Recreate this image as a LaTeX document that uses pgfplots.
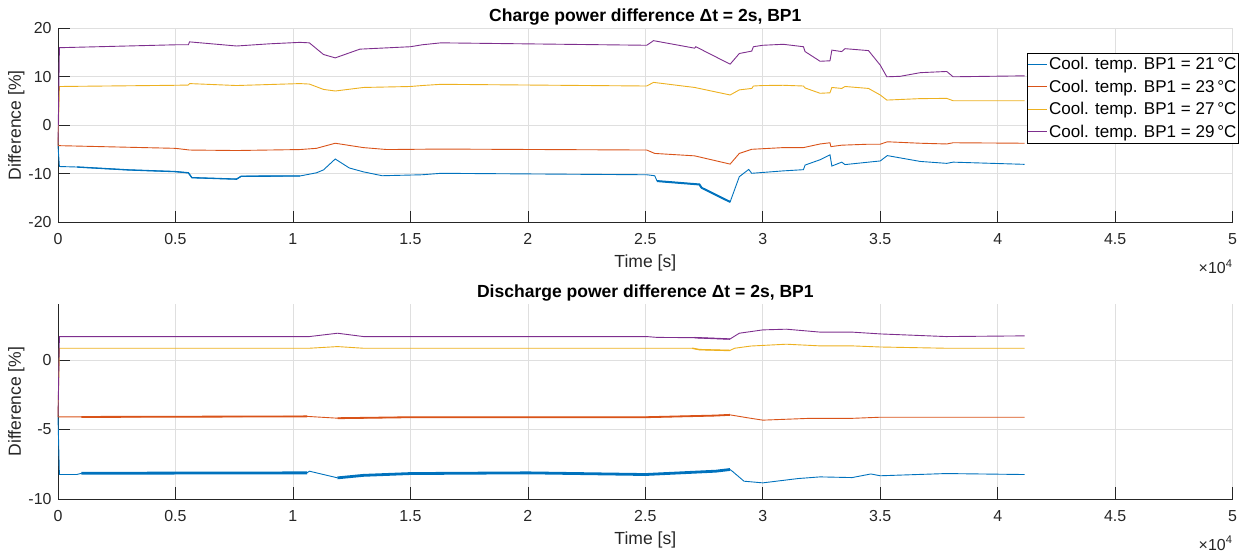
\documentclass[border=0pt]{standalone}
\usepackage{fontspec}
\setmainfont{Liberation Sans}
\usepackage{pgfplots}
\pgfplotsset{compat=1.18}
\definecolor{c1}{rgb}{0,0.447,0.741}
\definecolor{c2}{rgb}{0.85,0.325,0.098}
\definecolor{c3}{rgb}{0.929,0.694,0.125}
\definecolor{c4}{rgb}{0.494,0.184,0.556}
\definecolor{axgray}{RGB}{38,38,38}
\definecolor{gridgray}{RGB}{223,223,223}
\pgfplotsset{
  mlab/.style={
    scale only axis, width=1174.7bp,
    xmin=0, xmax=50000, clip=false,
    axis x line*=bottom, axis y line*=left,
    axis line style={-, draw=axgray, line width=0.7bp},
    tick align=inside, major tick length=11.7bp,
    tick style={draw=axgray, line width=0.7bp},
    grid=major, grid style={draw=gridgray, line width=0.7bp},
    scaled x ticks=false,
    xtick={0,5000,10000,15000,20000,25000,30000,35000,40000,45000,50000},
    xticklabels={0,0.5,1,1.5,2,2.5,3,3.5,4,4.5,5},
    /pgf/number format/assume math mode=true,
    ticklabel style={font=\fontsize{16}{19}\selectfont, text=axgray},
    xticklabel style={anchor=base, yshift=-22.5bp, inner sep=0pt},
    yticklabel style={anchor=east, xshift=-6.3bp, inner sep=0pt},
    label style={font=\fontsize{17.6}{21}\selectfont, text=axgray},
    xlabel style={at={(axis description cs:0.5,-0.234)}, anchor=base, inner sep=0pt},
    ylabel style={at={(axis description cs:-0.03158,0.5)}, anchor=base, inner sep=0pt, rotate=0},
    title style={at={(axis description cs:0.5,1.0052)}, anchor=base, inner sep=0pt, font=\bfseries\fontsize{17.6}{21}\selectfont},
    xlabel={Time [s]}, ylabel={Difference [\%]},
    every axis plot/.append style={line width=0.9bp},
  }
}
\begin{document}
\begin{tikzpicture}
\useasboundingbox (0,0) rectangle (1243bp,553bp);
% ---------------- top axis ----------------
\begin{axis}[mlab, at={(58bp,330.7bp)}, anchor=south west, height=194bp,
  ymin=-20, ymax=20, ytick={-20,-10,0,10,20},
  title={Charge power difference Δt = 2s, BP1},
  legend style={at={(axis description cs:1.0045,0.8727)}, anchor=north east,
    draw=none, fill=white, inner sep=0bp, name=leg,
    nodes={inner xsep=1.2bp, inner ysep=4.3bp},
    column sep=0bp, row sep=0bp,
    font=\fontsize{17.1}{20}\selectfont},
  legend cell align=left,
  legend image code/.code={\draw[#1, line width=0.9bp] (0bp,0bp) -- (19bp,0bp);},
]
\addplot[draw=c1] coordinates {
(0,-4.2) (60,-8.5) (800,-8.6) (3000,-9.2) (5000,-9.55) (5550,-9.8) (5700,-10.8)
(7600,-11.1) (7800,-10.5) (10300,-10.45) (11000,-9.8) (11300,-9.2) (11800,-6.95)
(12400,-8.8) (13000,-9.6) (13800,-10.4) (15500,-10.2) (16300,-9.9) (25060,-10.2)
(25400,-10.4) (25500,-11.5) (27300,-12.2) (27400,-12.9) (28610,-15.8) (29000,-10.6)
(29400,-9.1) (29530,-9.9) (30870,-9.4) (31730,-9.15) (31800,-8.2) (32440,-7.1)
(32860,-6.1) (32940,-8.4) (33360,-7.6) (33500,-8.1) (34500,-7.6) (35000,-7.35)
(35300,-6.25) (36700,-7.45) (37830,-7.85) (38100,-7.6) (41140,-8.05)};
\addlegendentry{Cool. temp. BP1 = 21\,°C}
\addplot[draw=c2] coordinates {
(0,-4.2) (60,-4.2) (5000,-4.75) (5600,-5.1) (7600,-5.2) (10300,-5.0) (11000,-4.75)
(11800,-3.7) (13000,-4.6) (14000,-5.0) (16300,-4.9) (25060,-5.1) (25400,-5.8)
(27100,-6.3) (28610,-8.0) (29000,-5.8) (29530,-4.95) (30870,-4.6) (31730,-4.6)
(32440,-3.85) (32860,-3.6) (32900,-4.4) (33360,-4.1) (34500,-3.9) (35000,-3.9)
(35300,-3.4) (36700,-3.7) (37830,-3.85) (38100,-3.6) (41140,-3.7)};
\addlegendentry{Cool. temp. BP1 = 23\,°C}
\addplot[draw=c3] coordinates {
(0,-4.2) (60,8.0) (5000,8.25) (5550,8.3) (5600,8.6) (7600,8.2) (10300,8.6) (10700,8.5)
(11300,7.4) (11800,7.07) (13000,7.8) (15000,8.0) (15500,8.2) (16300,8.45) (25060,8.1)
(25350,8.85) (27100,7.8) (28610,6.25) (29000,7.3) (29530,7.6) (29600,8.1) (30000,8.2)
(30870,8.25) (31730,8.1) (31800,7.7) (32440,6.6) (32860,6.7) (32940,7.8) (33360,7.6)
(33500,8.0) (34500,7.6) (35000,6.25) (35280,5.2) (36700,5.5) (37830,5.55) (38100,5.07)
(41140,5.07)};
\addlegendentry{Cool. temp. BP1 = 27\,°C}
\addplot[draw=c4] coordinates {
(0,-4.2) (60,16.0) (5000,16.6) (5550,16.6) (5600,17.2) (7600,16.35) (9000,16.8)
(10300,17.1) (10700,17.0) (11300,14.6) (11800,13.9) (12850,15.7) (15000,16.2)
(15500,16.6) (16300,17.0) (25060,16.5) (25350,17.45) (27100,15.9) (27150,16.2)
(28610,12.6) (29000,14.8) (29530,15.3) (29600,16.2) (30000,16.5) (30870,16.7)
(31730,16.2) (31800,15.2) (32440,13.2) (32860,13.3) (32940,15.5) (33360,15.2)
(33500,15.8) (34500,15.4) (35000,12.4) (35280,10.0) (35850,10.1) (36700,10.85)
(37830,11.1) (38100,10.0) (41140,10.2)};
\addlegendentry{Cool. temp. BP1 = 29\,°C}
% noisy stretches drawn thicker
\addplot[draw=c1, line width=1.3bp, forget plot] coordinates {
(800,-8.6) (3000,-9.2) (5000,-9.55) (5550,-9.8) (5700,-10.8) (7600,-11.1) (7800,-10.5) (10300,-10.45)};
\addplot[draw=c1, line width=2.0bp, forget plot] coordinates {
(25500,-11.5) (27300,-12.2) (27400,-12.9) (28610,-15.8)};
\node[anchor=base east, inner sep=0pt, text=axgray, font=\fontsize{16}{19}\selectfont]
  at (axis description cs:1,-0.263) {×10\textsuperscript{4}};
\end{axis}
\draw[black, line width=0.6bp] (leg.south west) rectangle (leg.north east);
% ---------------- bottom axis ----------------
\begin{axis}[mlab, at={(58bp,54bp)}, anchor=south west, height=194.7bp,
  ymin=-10, ymax=4, ytick={-10,-5,0},
  title={Discharge power difference Δt = 2s, BP1},
]
\addplot[draw=c1] coordinates {
(0,-4.1) (60,-8.24) (800,-8.24) (1000,-8.15) (10600,-8.12) (10700,-8.0) (11900,-8.48)
(13000,-8.3) (15000,-8.17) (20000,-8.12) (25000,-8.24) (28000,-8.0) (28600,-7.88)
(28700,-8.0) (29200,-8.72) (30000,-8.84) (31500,-8.53) (32440,-8.41) (33800,-8.46)
(34600,-8.2) (35000,-8.33) (37800,-8.17) (41140,-8.24)};
\addplot[draw=c2] coordinates {
(0,-4.1) (60,-4.1) (1000,-4.1) (10600,-4.06) (11900,-4.19) (15000,-4.12) (25000,-4.12)
(28000,-4.0) (28600,-3.95) (29500,-4.2) (30000,-4.33) (32000,-4.2) (33800,-4.2)
(35000,-4.12) (41140,-4.12)};
\addplot[draw=c3] coordinates {
(0,-4.1) (60,0.84) (10700,0.84) (11900,0.96) (13000,0.84) (27000,0.84) (27300,0.74)
(28600,0.68) (28800,0.84) (29500,1.0) (31000,1.13) (32440,1.01) (33800,1.01)
(35000,0.93) (37800,0.84) (41140,0.84)};
\addplot[draw=c4] coordinates {
(0,-4.1) (60,1.68) (10700,1.68) (11900,1.92) (13000,1.68) (25060,1.68) (25500,1.62)
(27100,1.6) (28600,1.5) (29000,1.92) (30000,2.16) (31000,2.21) (32440,2.0)
(33800,2.0) (35000,1.87) (37800,1.68) (41140,1.73)};
% noisy stretches drawn thicker
\addplot[draw=c1, line width=2.8bp, forget plot] coordinates {
(1000,-8.15) (10600,-8.12)};
\addplot[draw=c1, line width=2.8bp, forget plot] coordinates {
(11900,-8.48) (13000,-8.3) (15000,-8.17) (20000,-8.12) (25000,-8.24) (28000,-8.0) (28600,-7.88)};
\addplot[draw=c2, line width=1.8bp, forget plot] coordinates {
(1000,-4.1) (10600,-4.06)};
\addplot[draw=c2, line width=1.8bp, forget plot] coordinates {
(11900,-4.19) (15000,-4.12) (25000,-4.12) (28000,-4.0) (28600,-3.95)};
\addplot[draw=c3, line width=1.4bp, forget plot] coordinates {
(27000,0.84) (27300,0.74) (28600,0.68)};
\addplot[draw=c4, line width=1.4bp, forget plot] coordinates {
(27100,1.6) (28600,1.5)};
\node[anchor=base east, inner sep=0pt, text=axgray, font=\fontsize{16}{19}\selectfont]
  at (axis description cs:1,-0.262) {×10\textsuperscript{4}};
\end{axis}
\end{tikzpicture}
\end{document}
